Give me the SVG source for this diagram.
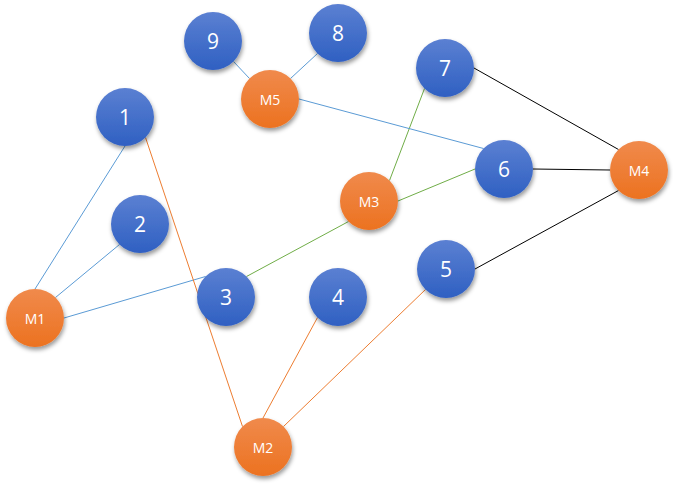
<svg xmlns="http://www.w3.org/2000/svg" width="673" height="485" viewBox="0 0 673 485">
<defs>
<linearGradient id="gb" x1="0" y1="0" x2="0" y2="1">
<stop offset="0" stop-color="#5b80d2"/>
<stop offset="1" stop-color="#2f60c2"/>
</linearGradient>
<linearGradient id="go" x1="0" y1="0" x2="0" y2="1">
<stop offset="0" stop-color="#f08a4c"/>
<stop offset="1" stop-color="#ec7220"/>
</linearGradient>
<filter id="sh" x="-30%" y="-30%" width="160%" height="170%">
<feDropShadow dx="1" dy="3" stdDeviation="2" flood-color="#000" flood-opacity="0.4"/>
</filter>
</defs>
<style>
.b{fill:url(#gb);filter:url(#sh)}
.o{fill:url(#go);filter:url(#sh)}
.t{fill:#fff;font-family:"Open Sans","Liberation Sans",sans-serif;text-anchor:middle;dominant-baseline:central}
.tb{font-size:21px}
.to{font-size:14px}
.eb{stroke:#5b9bd5;stroke-width:1}
.eo{stroke:#ed7d31;stroke-width:1}
.eg{stroke:#70ad47;stroke-width:1}
.ek{stroke:#000;stroke-width:1}
</style>
<rect width="673" height="485" fill="#fff"/>
<g id="edges" fill="none">
<line class="eb" x1="125" y1="146" x2="35" y2="289"/>
<line class="eb" x1="119.5" y1="244.5" x2="55.5" y2="297.5"/>
<line class="eb" x1="205.5" y1="276.5" x2="64" y2="318"/>
<line class="eo" x1="145.5" y1="137.5" x2="242.5" y2="426.5"/>
<line class="eo" x1="317.5" y1="317.5" x2="263" y2="418"/>
<line class="eo" x1="425.5" y1="289.5" x2="283.5" y2="426.5"/>
<line class="eg" x1="246.5" y1="276.5" x2="348.5" y2="221.5"/>
<line class="eg" x1="424.5" y1="88.5" x2="389.5" y2="180.5"/>
<line class="eg" x1="475" y1="169" x2="398" y2="201"/>
<line class="eb" x1="233.5" y1="61.5" x2="249.5" y2="78.5"/>
<line class="eb" x1="317.5" y1="53.5" x2="290.5" y2="78.5"/>
<line class="eb" x1="299" y1="99" x2="483.5" y2="148.5"/>
<line class="ek" x1="474" y1="68" x2="618.5" y2="149.5"/>
<line class="ek" x1="533" y1="169" x2="610" y2="170"/>
<line class="ek" x1="475" y1="269" x2="618.5" y2="190.5"/>
</g>
<g id="n1"><circle class="b" cx="125" cy="117" r="29"/><text class="t tb" x="125" y="117">1</text></g>
<g id="n2"><circle class="b" cx="140" cy="224" r="29"/><text class="t tb" x="140" y="224">2</text></g>
<g id="n3"><circle class="b" cx="226" cy="297" r="29"/><text class="t tb" x="226" y="297">3</text></g>
<g id="n4"><circle class="b" cx="338" cy="297" r="29"/><text class="t tb" x="338" y="297">4</text></g>
<g id="n5"><circle class="b" cx="446" cy="269" r="29"/><text class="t tb" x="446" y="269">5</text></g>
<g id="n6"><circle class="b" cx="504" cy="169" r="29"/><text class="t tb" x="504" y="169">6</text></g>
<g id="n7"><circle class="b" cx="445" cy="68" r="29"/><text class="t tb" x="445" y="68">7</text></g>
<g id="n8"><circle class="b" cx="338" cy="33" r="29"/><text class="t tb" x="338" y="33">8</text></g>
<g id="n9"><circle class="b" cx="213" cy="41" r="29"/><text class="t tb" x="213" y="41">9</text></g>
<g id="M1"><circle class="o" cx="35" cy="318" r="29"/><text class="t to" x="35" y="318">M1</text></g>
<g id="M2"><circle class="o" cx="263" cy="447" r="29"/><text class="t to" x="263" y="447">M2</text></g>
<g id="M3"><circle class="o" cx="369" cy="201" r="29"/><text class="t to" x="369" y="201">M3</text></g>
<g id="M4"><circle class="o" cx="639" cy="170" r="29"/><text class="t to" x="639" y="170">M4</text></g>
<g id="M5"><circle class="o" cx="270" cy="99" r="29"/><text class="t to" x="270" y="99">M5</text></g>
</svg>
